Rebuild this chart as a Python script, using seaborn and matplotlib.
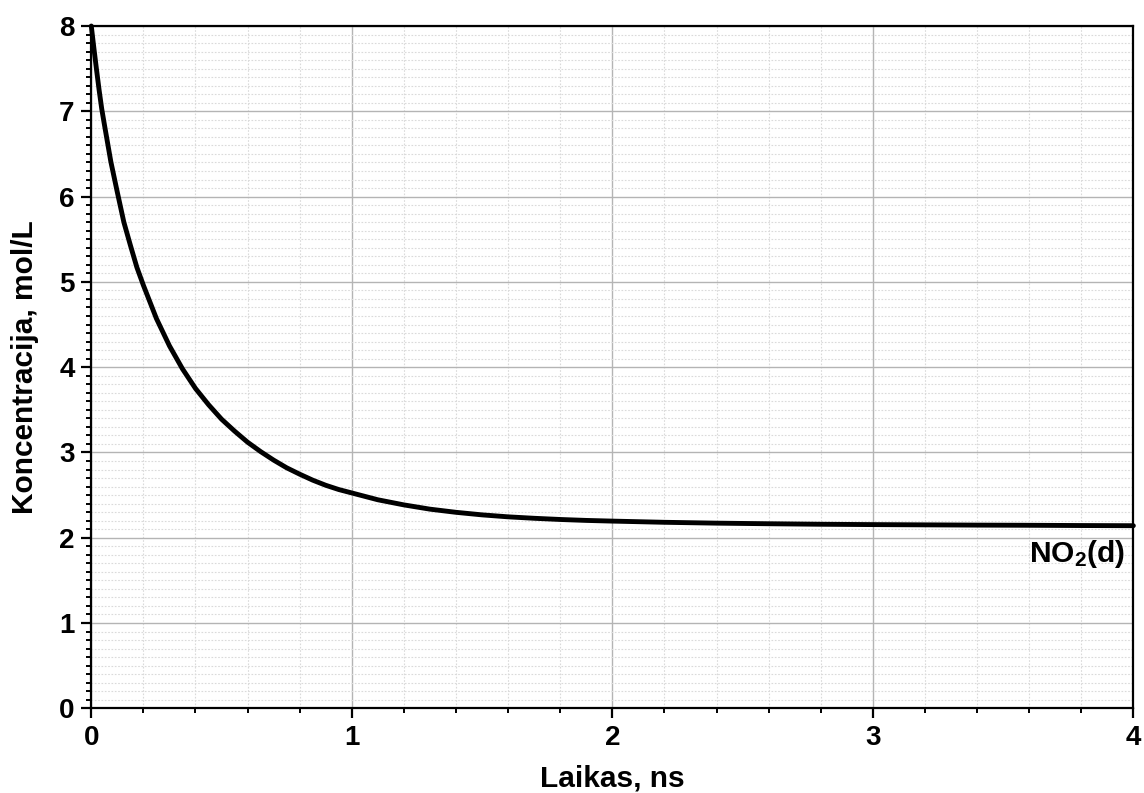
import matplotlib
matplotlib.use("Agg")
import matplotlib.pyplot as plt
from matplotlib.ticker import MultipleLocator
import seaborn as sns
import pandas as pd

# Data
time_ns = [0.00, 0.01, 0.02, 0.03, 0.04, 0.05, 0.075, 0.10, 0.125, 0.15, 0.175,
           0.20, 0.25, 0.30, 0.35, 0.40, 0.45, 0.50, 0.55, 0.60, 0.65, 0.70,
           0.75, 0.80, 0.85, 0.90, 0.95, 1.00, 1.10, 1.20, 1.30, 1.40, 1.50,
           1.60, 1.70, 1.80, 1.90, 2.00, 2.20, 2.40, 2.60, 2.80, 3.00, 3.20,
           3.40, 3.60, 3.80, 4.00]
no2_conc = [8.00, 7.74, 7.49, 7.25, 7.03, 6.85, 6.41, 6.05, 5.70, 5.43, 5.17,
            4.96, 4.57, 4.25, 3.98, 3.75, 3.56, 3.39, 3.25, 3.12, 3.01, 2.91,
            2.82, 2.745, 2.675, 2.615, 2.565, 2.525, 2.445, 2.385, 2.335, 2.298,
            2.268, 2.245, 2.228, 2.214, 2.203, 2.195, 2.181, 2.171, 2.164,
            2.158, 2.154, 2.151, 2.148, 2.146, 2.143, 2.141]
series_label = "NO$_2$(d)"
x_label = "Laikas, ns"
y_label = "Koncentracija, mol/L"

sns.set_theme(style="white")
plt.rcParams["font.family"] = ["Liberation Sans", "DejaVu Sans"]
plt.rcParams["font.weight"] = "bold"
plt.rcParams["text.color"] = "black"
plt.rcParams["axes.labelcolor"] = "black"
plt.rcParams["xtick.color"] = "black"
plt.rcParams["ytick.color"] = "black"
plt.rcParams["mathtext.fontset"] = "custom"
plt.rcParams["mathtext.rm"] = "Liberation Sans:bold"
plt.rcParams["mathtext.it"] = "Liberation Sans:bold"
plt.rcParams["mathtext.bf"] = "Liberation Sans:bold"
plt.rcParams["mathtext.default"] = "rm"

df = pd.DataFrame({"t": time_ns, "c": no2_conc})

fig = plt.figure(figsize=(11.44, 7.93), dpi=100)
ax = fig.add_axes([0.0798, 0.1068, 0.9109, 0.8604])

sns.lineplot(data=df, x="t", y="c", ax=ax, color="black", linewidth=3.5,
             zorder=5, clip_on=False)

ax.set_xlim(0, 4)
ax.set_ylim(0, 8)
ax.xaxis.set_major_locator(MultipleLocator(1))
ax.xaxis.set_minor_locator(MultipleLocator(0.2))
ax.yaxis.set_major_locator(MultipleLocator(1))
ax.yaxis.set_minor_locator(MultipleLocator(0.1))

ax.grid(which="major", color="#b4b4b4", linewidth=1.0, linestyle="-", zorder=1)
ax.grid(which="minor", color="#dadada", linewidth=0.8, linestyle=(0, (1.5, 1.5)), zorder=1)
ax.set_axisbelow(True)

for side in ["left", "bottom", "top", "right"]:
    ax.spines[side].set_visible(True)
    ax.spines[side].set_color("black")
    ax.spines[side].set_linewidth(1.6)

ax.tick_params(axis="both", which="major", direction="out", length=7, width=1.6,
               color="black", labelcolor="black", labelsize=20, pad=5,
               bottom=True, left=True, top=False, right=False)
ax.tick_params(axis="both", which="minor", direction="out", length=3.5, width=1.4,
               color="black", bottom=True, left=True, top=False, right=False)
for lab in ax.get_xticklabels() + ax.get_yticklabels():
    lab.set_fontweight("bold")

ax.set_xlabel(x_label, fontsize=21.5, fontweight="bold", color="black")
ax.set_ylabel(y_label, fontsize=21.5, fontweight="bold", color="black")
ax.xaxis.set_label_coords(0.5, -0.082)
ax.yaxis.set_label_coords(-0.050, 0.5)

ax.text(3.968, 1.72, series_label, ha="right", va="baseline", fontsize=21.5,
        fontweight="bold", color="black", zorder=6)

fig.savefig("out.png", dpi=100, facecolor="white")
